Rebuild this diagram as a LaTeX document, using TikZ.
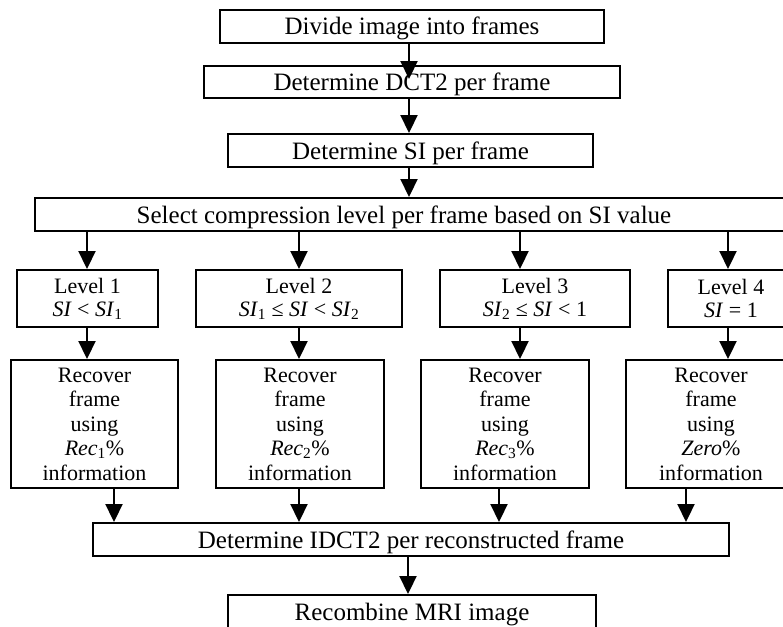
\documentclass[tikz,border=0pt]{standalone}
\usepackage{fontspec}
\setmainfont{Liberation Serif}
\usetikzlibrary{arrows.meta,calc}
\tikzset{
  box/.style={draw, line width=2pt, inner sep=0pt, font=\fontsize{25}{28}\selectfont, text height=17pt, text depth=0pt},
  lvbox/.style={draw, line width=2pt, inner sep=0pt, align=center, minimum height=57pt, font=\fontsize{22}{23}\selectfont},
  rcbox/.style={draw, line width=2pt, inner sep=0pt, align=center, minimum height=128pt, font=\fontsize{22}{24.5}\selectfont},
  arr/.style={-{Triangle[width=17pt,length=18pt]}, line width=2.2pt},
}
\newcommand{\vi}[1]{\textit{#1}}
\begin{document}
\begin{tikzpicture}[x=1pt,y=-1pt]
\useasboundingbox (0,0) rectangle (783,626);
\fill[white] (0,0) rectangle (783,626);
\clip (0,0) rectangle (783,626);
% main column
\node[box, minimum width=384pt, minimum height=33pt] (b1) at (412,26.5) {Divide image into frames};
\node[box, minimum width=416pt, minimum height=32pt] (b2) at (412,82) {Determine DCT2 per frame};
\node[box, minimum width=365pt, minimum height=33pt] (b3) at (410.5,150.5) {Determine SI per frame};
\node[box, minimum width=765pt, minimum height=33pt] (sel) at (417.5,214.5) {\hspace*{-27pt}Select compression level per frame based on SI value};
% levels
\node[lvbox, minimum width=141pt] (L1) at (87.5,298.5) {Level 1\\\vi{SI} < \vi{SI}\textsubscript{1}};
\node[lvbox, minimum width=206pt] (L2) at (299,298.5) {Level 2\\\vi{SI}\textsubscript{1} ≤ \vi{SI} < \vi{SI}\textsubscript{2}};
\node[lvbox, minimum width=190pt] (L3) at (535,298.5) {Level 3\\\vi{SI}\textsubscript{2} ≤ \vi{SI} < 1};
\node[lvbox, minimum width=126pt] (L4) at (731,298.5) {Level 4\\\vi{SI} = 1};
% recover
\node[rcbox, minimum width=167pt] (R1) at (94.5,424) {Recover\\frame\\using\\\vi{Rec}\textsubscript{1}\%\\information};
\node[rcbox, minimum width=168pt] (R2) at (300,424) {Recover\\frame\\using\\\vi{Rec}\textsubscript{2}\%\\information};
\node[rcbox, minimum width=168pt] (R3) at (505,424) {Recover\\frame\\using\\\vi{Rec}\textsubscript{3}\%\\information};
\node[rcbox, minimum width=170pt] (R4) at (711,424) {Recover\\frame\\using\\\vi{Zero}\%\\information};
% bottom
\node[box, minimum width=636pt, minimum height=33pt] (idct) at (411,539.5) {Determine IDCT2 per reconstructed frame};
\node[box, minimum width=368pt, minimum height=34pt] (rec) at (412,612) {Recombine MRI image};
% columns
\coordinate (m) at (409,0);
\coordinate (m2) at (408,0);
\coordinate (p1) at (87,0);
\coordinate (p2) at (299,0);
\coordinate (p3) at (520,0);
\coordinate (p4) at (728,0);
\coordinate (q1) at (114,0);
\coordinate (q2) at (299,0);
\coordinate (q3) at (499,0);
\coordinate (q4) at (686,0);
% arrows
\draw[arr] (b1.south -| m) -- ($(b2.north -| m)+(0,14)$);
\draw[arr] (b2.south -| m) -- (b3.north -| m);
\draw[arr] (b3.south -| m) -- (sel.north -| m);
\draw[arr] (sel.south -| p1) -- (L1.north -| p1);
\draw[arr] (sel.south -| p2) -- (L2.north -| p2);
\draw[arr] (sel.south -| p3) -- (L3.north -| p3);
\draw[arr] (sel.south -| p4) -- (L4.north -| p4);
\draw[arr] (L1.south -| p1) -- (R1.north -| p1);
\draw[arr] (L2.south -| p2) -- (R2.north -| p2);
\draw[arr] (L3.south -| p3) -- (R3.north -| p3);
\draw[arr] (L4.south -| p4) -- (R4.north -| p4);
\draw[arr] (R1.south -| q1) -- (idct.north -| q1);
\draw[arr] (R2.south -| q2) -- (idct.north -| q2);
\draw[arr] (R3.south -| q3) -- (idct.north -| q3);
\draw[arr] (R4.south -| q4) -- (idct.north -| q4);
\draw[arr] (idct.south -| m2) -- (rec.north -| m2);
\end{tikzpicture}
\end{document}
